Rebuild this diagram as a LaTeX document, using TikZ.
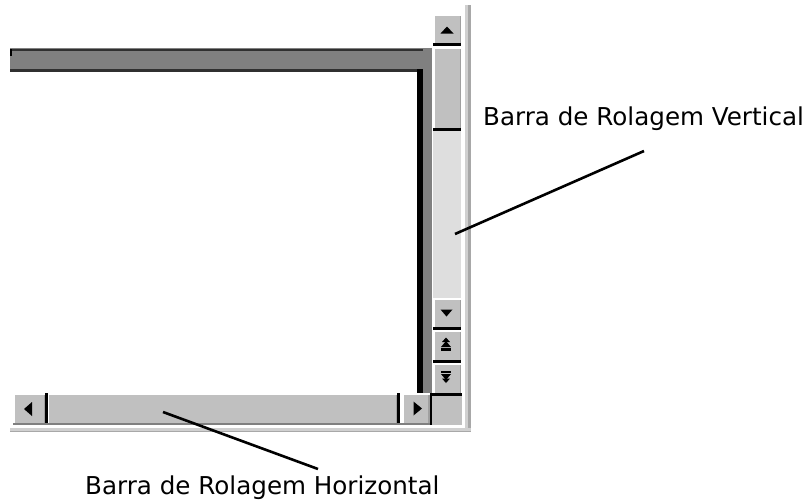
\documentclass[tikz,border=0pt]{standalone}
\usepackage{fontspec}
\setmainfont{DejaVu Sans}
\definecolor{face}{HTML}{C0C0C0}
\definecolor{wgray}{HTML}{808080}
\definecolor{wgraylight}{HTML}{A0A0A0}
\definecolor{darkedge}{HTML}{303030}
\definecolor{track}{HTML}{DEDEDE}
\definecolor{edgelight}{HTML}{D0D0D0}
\definecolor{edgemid}{HTML}{A8A8A8}
\newcommand\wbtn[4]{%
  \fill[face] (#1,#2) rectangle (#3,#4);
  \fill[white] (#1,#2) rectangle (#3,#2+1.5);
  \fill[white] (#1,#2) rectangle (#1+1.5,#4);
  \fill[wgraylight] (#3-1.5,#2+1.5) rectangle (#3,#4);
}
\begin{document}
\begin{tikzpicture}[x=1pt,y=-1pt,
  lab/.style={font=\fontsize{24.6}{29}\selectfont, inner sep=0pt, anchor=base west, text=black},
  leader/.style={line width=2.6pt, black},
  glyph/.style={fill=black}]
\useasboundingbox (0,0) rectangle (812,501);
\fill[white] (0,0) rectangle (812,501);

% window frame
\fill[wgray] (10,48) rectangle (432,72);
\fill[darkedge] (10,48.5) rectangle (432,51);
\fill[darkedge] (10,69) rectangle (423,72);
\fill[black] (10,48.5) rectangle (12,56);
\fill[wgray] (423,48) rectangle (432,393);
\fill[black] (417,69) rectangle (423,393);

% outer edge lines
\fill[edgelight] (465,5) rectangle (468,432);
\fill[edgemid] (468,5) rectangle (471,432);
\fill[edgelight] (10,428) rectangle (471,430.5);
\fill[edgemid] (10,430.5) rectangle (471,432);

% vertical scroll bar
\wbtn{433}{14}{461}{43}
\fill[black] (433,43) rectangle (461,46);
\wbtn{433}{47}{461}{128}
\fill[black] (433,128) rectangle (461,131);
\fill[track] (433,131) rectangle (461,298);
\wbtn{433}{298}{461}{327}
\fill[black] (433,327) rectangle (461,330);
\wbtn{433}{330}{461}{360}
\fill[black] (433,360) rectangle (461,363);
\wbtn{433}{363}{461}{393}
\fill[black] (430,393) rectangle (462,395.5);
\fill[face] (432,395.5) rectangle (462,425);

% horizontal scroll bar
\wbtn{13}{393}{45}{423}
\fill[black] (45,393) rectangle (47.5,423);
\wbtn{47.5}{393}{397}{423}
\fill[black] (397,393) rectangle (399.5,423);
\wbtn{402}{393}{429.5}{423}
\fill[black] (429.5,393) rectangle (432,425);
\fill[wgray] (13,423) rectangle (429.5,425);

% arrow glyphs
\fill[glyph] (440.5,33.5) -- (453.5,33.5) -- (447,26.5) -- cycle;
\fill[glyph] (440.5,309.5) -- (452.5,309.5) -- (446.5,316.5) -- cycle;
\fill[glyph] (446,337.5) -- (450,342) -- (442,342) -- cycle;
\fill[glyph] (446,341) -- (451,347) -- (441,347) -- cycle;
\fill[glyph] (441,348) rectangle (451,350.5);
\fill[glyph] (441,370.5) rectangle (451,373);
\fill[glyph] (441,374) -- (451,374) -- (446,380) -- cycle;
\fill[glyph] (442,378.5) -- (450,378.5) -- (446,383) -- cycle;
\fill[glyph] (24,409) -- (32,402) -- (32,416) -- cycle;
\fill[glyph] (422,408.5) -- (413.5,401.5) -- (413.5,415.5) -- cycle;

% labels and leader lines
\node[lab] (labV) at (483,125) {Barra de Rolagem Vertical};
\node[lab] (labH) at (85,494.5) {Barra de Rolagem Horizontal};
\coordinate (vTip) at (455,234);
\coordinate (vEnd) at (644,151);
\coordinate (hTip) at (163,412);
\coordinate (hEnd) at (318,469);
\draw[leader] (vEnd) -- (vTip);
\draw[leader] (hTip) -- (hEnd);
\end{tikzpicture}
\end{document}
